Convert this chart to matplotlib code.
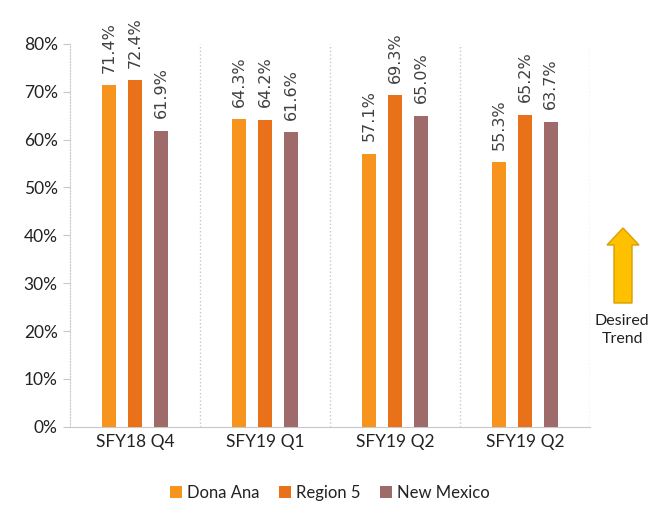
import matplotlib.pyplot as plt
from matplotlib.patches import FancyArrow
import numpy as np

plt.rcParams['font.family'] = ['Lato', 'DejaVu Sans']

categories = ['SFY18 Q4', 'SFY19 Q1', 'SFY19 Q2', 'SFY19 Q2']
series_names = ['Dona Ana', 'Region 5', 'New Mexico']
dona_ana = [71.4, 64.3, 57.1, 55.3]
region_5 = [72.4, 64.2, 69.3, 65.2]
new_mexico = [61.9, 61.6, 65.0, 63.7]
colors = ['#F7941D', '#E8711A', '#9E6A6A']


def main():
    fig = plt.figure(figsize=(6.68, 5.05), dpi=100)
    ax = fig.add_axes([0.105, 0.155, 0.778, 0.758])

    x = np.arange(len(categories))
    offsets = [-0.2, 0.0, 0.2]
    width = 0.11
    for vals, off, col, name in zip([dona_ana, region_5, new_mexico], offsets, colors, series_names):
        v = np.array(vals) / 100
        ax.bar(x + off, v, width, color=col, label=name, zorder=3)
        for xi, vi in zip(x + off, v):
            ax.text(xi, vi + 0.026, f'{vi*100:.1f}%', rotation=90, ha='center', va='bottom',
                    fontsize=11.5, color='#404040', family='DejaVu Sans')

    ax.set_xlim(-0.5, len(categories) - 0.5)
    ax.set_ylim(0, 0.8)
    ax.set_yticks(np.arange(0, 0.81, 0.1))
    ax.set_yticklabels([f'{int(round(t*100))}%' for t in np.arange(0, 0.81, 0.1)], fontsize=12.5, color='#222222')
    ax.set_xticks(x)
    ax.set_xticklabels(categories, fontsize=12.5, color='#222222')
    ax.tick_params(axis='x', length=0, pad=5)
    ax.tick_params(axis='y', length=5, color='#c8c8c8', pad=4)

    # category separators
    for b in np.arange(0.5, len(categories), 1.0):
        ax.axvline(b, color='#c8c8c8', linestyle=':', linewidth=1, zorder=1)
    for side in ['top', 'right']:
        ax.spines[side].set_visible(False)
    ax.spines['left'].set_color('#c8c8c8')
    ax.spines['left'].set_linestyle(':')
    ax.spines['bottom'].set_color('#c8c8c8')

    leg = ax.legend(loc='center', bbox_to_anchor=(0.5, -0.172), ncol=3, frameon=False,
                    fontsize=12, handlelength=0.7, handleheight=0.7, columnspacing=1.2,
                    handletextpad=0.3, borderpad=0.1)
    for t in leg.get_texts():
        t.set_color('#222222')

    # desired trend arrow
    arrow = FancyArrow(623 / 668, 1 - 303 / 505, 0, 75 / 505, width=18 / 668, head_width=32 / 668,
                       head_length=17 / 505, length_includes_head=True, transform=fig.transFigure,
                       facecolor='#FFC000', edgecolor='#D9A000', linewidth=1)
    fig.patches.append(arrow)
    fig.text(622 / 668, 1 - 330 / 505, 'Desired\nTrend', ha='center', va='center', fontsize=11.5,
             color='#222222', linespacing=1.4)

    fig.savefig('out.png', dpi=100)


if __name__ == '__main__':
    main()
